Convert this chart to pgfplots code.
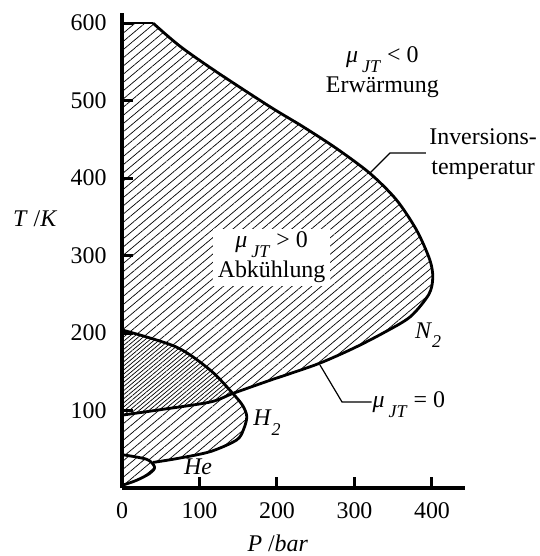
\documentclass[border=0pt]{standalone}
\usepackage{pgfplots}
\pgfplotsset{compat=1.18}
\usepackage{fontspec}
\setmainfont{Liberation Serif}
\usetikzlibrary{patterns.meta}
\newcommand{\mujt}{\textit{μ}\,\raisebox{-0.42em}{\fontsize{18}{18}\selectfont\textit{JT}}}
\newcommand{\sub}[1]{\raisebox{-0.4em}{\fontsize{18}{18}\selectfont\textit{#1}}}
\begin{document}
\begin{tikzpicture}[font=\fontsize{24}{30}\selectfont]
\begin{axis}[
  at={(0,0)}, anchor=south west,
  scale only axis, width=343bp, height=475bp,
  xmin=0, xmax=442.6, ymin=0, ymax=613,
  axis x line=bottom, axis y line=left,
  axis line style={line width=3.5bp, -},
  xtick={0,100,200,300,400}, ytick={100,200,300,400,500,600},
  xtick align=inside, ytick align=inside, major tick length=11bp,
  tick style={line width=3bp, black},
  ticklabel style={font=\fontsize{24}{28}\selectfont},
  yticklabel style={xshift=-12bp},
  xticklabel style={yshift=-11bp},
  /pgf/number format/assume math mode=true,
  clip=false,
]
% N2 hatched region
\addplot[draw=none, smooth, pattern={Lines[angle=40,distance=6.3bp,line width=0.7bp]}] coordinates {
(40,600)(75,570)(122,537)(191,492)(234,466)(277,438)(320,406)(354,372)(380,333)(397,295)(401,272)(396,250)(372,221)(337,200)(298,180)(255,161)(212,146)(191,139)(143,122)(114,111)(49,101)(0,94)
} -- (axis cs:0,600) -- cycle;
% H2 hatched region
\addplot[draw=none, smooth, pattern={Lines[angle=40,distance=6.3bp,line width=0.7bp,xshift=4.9bp]}] coordinates {
(0,204)(70,182)(114,152)(143,122)(156,106)(161,92)(157,76)(148,62)(114,47)(71,38)(40,33)
} -- (axis cs:20,39) -- (axis cs:0,43) -- cycle;
% He hatched region
\addplot[draw=none, smooth, pattern={Lines[angle=40,distance=6.3bp,line width=0.7bp]}] coordinates {
(0,43)(32,37)(42,27)(36,19)(19,10)(2,4)(0,3)
} -- cycle;
% curves
\addplot[line width=2.8bp, smooth] coordinates {
(40,600)(75,570)(122,537)(191,492)(234,466)(277,438)(320,406)(354,372)(380,333)(397,295)(401,272)(396,250)(372,221)(337,200)(298,180)(255,161)(212,146)(191,139)(143,122)(114,111)(49,101)(0,94)
};
\addplot[line width=2.8bp] coordinates {(0,600)(40,600)};
\addplot[line width=2.8bp, smooth] coordinates {
(0,204)(70,182)(114,152)(143,122)(156,106)(161,92)(157,76)(148,62)(114,47)(71,38)(40,33)
};
\addplot[line width=2.8bp, smooth] coordinates {
(0,43)(32,37)(42,27)(36,19)(19,10)(2,4)(0,3)
};
% annotations
\node[fill=white, align=center, inner xsep=5bp, inner ysep=3bp] at (axis cs:193,298) {\mujt{} > 0\\Abkühlung};
\node[align=center] at (axis cs:336,537) {\mujt{} < 0\\Erwärmung};
\draw[line width=1.2bp] (axis cs:392,432.3) -- (axis cs:345.8,432.3) -- (axis cs:320,406.5);
\node[align=center] at (axis cs:466,431) {Inversions-\\temperatur};
\draw[line width=1.2bp] (axis cs:255.5,158.7) -- (axis cs:283.9,111) -- (axis cs:322,111);
\node[anchor=west, inner sep=1bp] at (axis cs:322,108) {\mujt{} = 0};
\node at (axis cs:395,197) {\textit{N}\sub{2}};
\node at (axis cs:187,84) {\textit{H}\sub{2}};
\node at (axis cs:98,28) {\textit{He}};
\node at (axis cs:-112,348) {\textit{T} /\textit{K}};
\node at (axis cs:201,-71) {\textit{P} /\textit{bar}};
\end{axis}
\pgfresetboundingbox
\path[use as bounding box] (-122bp,-68bp) rectangle (418bp,488bp);
\end{tikzpicture}
\end{document}
